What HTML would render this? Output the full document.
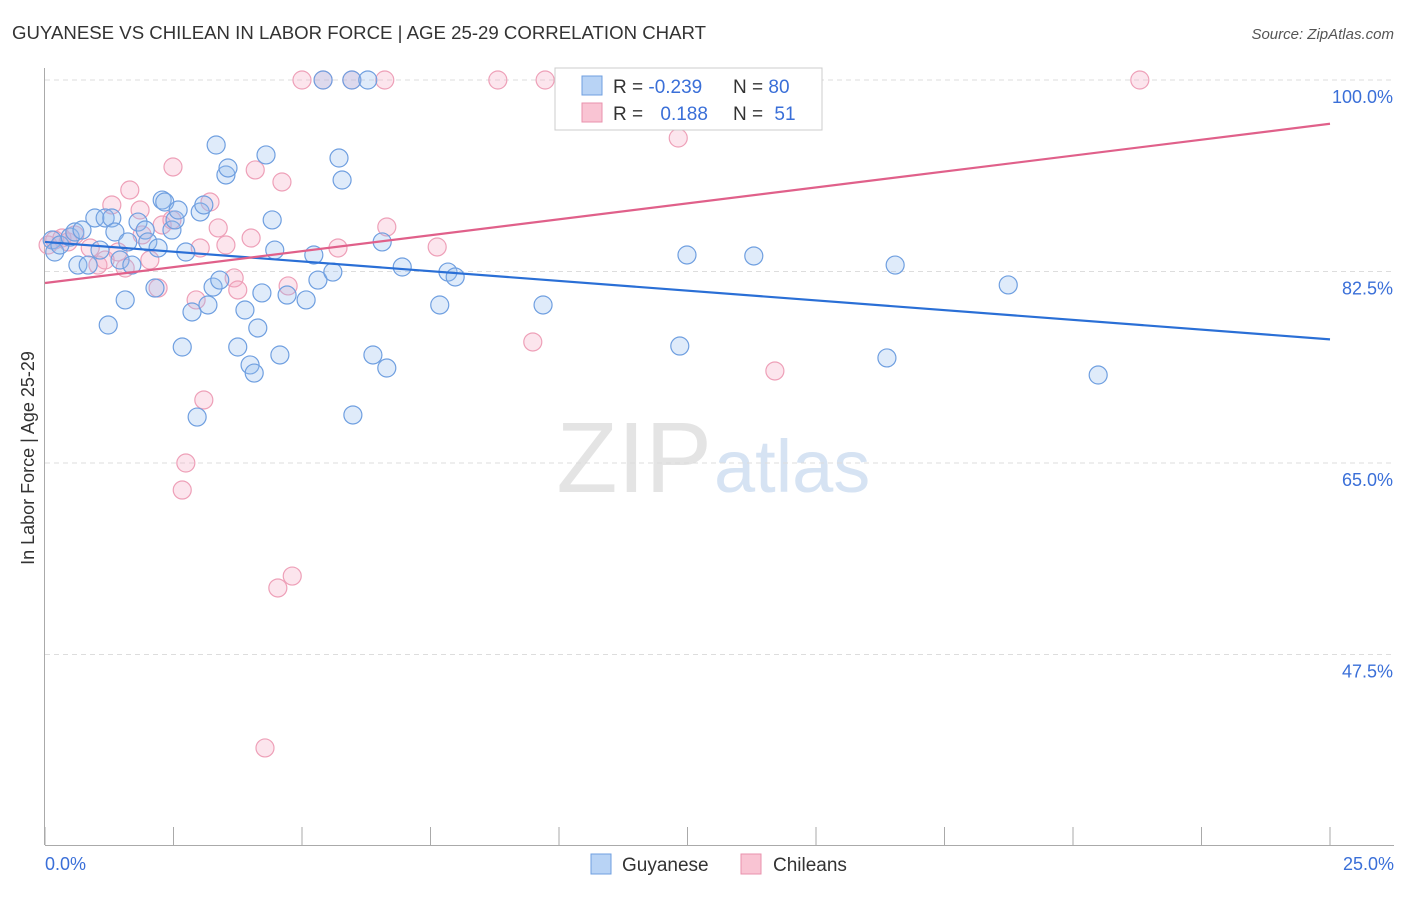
<!DOCTYPE html>
<html><head><meta charset="utf-8"><style>
body{margin:0;background:#fff;font-family:"Liberation Sans",sans-serif}
svg text{font-family:"Liberation Sans",sans-serif}
</style></head><body>
<svg id="chart" width="1406" height="892" xmlns="http://www.w3.org/2000/svg">
<text x="12" y="39" font-size="18" fill="#333" textLength="694" lengthAdjust="spacingAndGlyphs">GUYANESE VS CHILEAN IN LABOR FORCE | AGE 25-29 CORRELATION CHART</text>
<text x="1394" y="39" font-size="15" fill="#555" font-style="italic" text-anchor="end">Source: ZipAtlas.com</text>
<text x="712" y="492" font-size="100" fill="#e4e4e4" text-anchor="end" font-family="Liberation Serif">ZIP</text>
<text x="714" y="492" font-size="74" fill="#d6e3f3">atlas</text>
<g id="grid"></g>
<g id="axes"></g>
<g id="pts"></g>
<g id="trends"></g>
<text x="34" y="458" font-size="18" fill="#333" text-anchor="middle" transform="rotate(-90 34 458)">In Labor Force | Age 25-29</text>
<g>
<rect x="555" y="68" width="267" height="62" fill="#fff" stroke="#ccc"/>
<rect x="582" y="76" width="20" height="19" fill="#b8d3f5" stroke="#6f9fe0"/>
<rect x="582" y="103" width="20" height="19" fill="#f9c4d3" stroke="#e992ad"/>
<text x="613" y="93" font-size="19" fill="#333">R = <tspan fill="#3a6fd8">-0.239</tspan></text>
<text x="733" y="93" font-size="19" fill="#333">N = <tspan fill="#3a6fd8">80</tspan></text>
<text x="613" y="120" font-size="19" fill="#333">R = <tspan fill="#3a6fd8" dx="12">0.188</tspan></text>
<text x="733" y="120" font-size="19" fill="#333">N = <tspan fill="#3a6fd8" dx="6">51</tspan></text>
</g>
<g>
<rect x="591" y="854" width="20" height="20" fill="#b8d3f5" stroke="#6f9fe0"/>
<text x="622" y="871" font-size="19" fill="#333">Guyanese</text>
<rect x="741" y="854" width="20" height="20" fill="#f9c4d3" stroke="#e992ad"/>
<text x="773" y="871" font-size="19" fill="#333">Chileans</text>
</g>
</svg>
<script>
const blueX=[0.14,0.19,0.29,0.49,0.58,0.72,0.64,0.84,0.97,1.07,1.17,1.30,1.23,1.36,1.46,1.56,1.61,1.69,1.81,1.95,2.00,2.14,2.20,2.28,2.33,2.47,2.53,2.59,2.67,2.74,2.86,2.96,3.02,3.09,3.17,3.27,3.33,3.40,3.52,3.56,3.75,3.89,3.99,4.07,4.14,4.22,4.30,4.42,4.47,4.57,4.71,5.08,5.23,5.31,5.41,5.60,5.72,5.78,5.97,6.28,6.38,5.99,6.56,6.65,6.95,7.68,7.84,7.98,9.69,12.35,12.49,13.79,16.38,16.54,18.74,20.49];
const blueY=[85.38,84.28,84.92,85.65,86.11,86.29,83.09,83.09,87.39,84.46,87.39,87.39,77.61,86.11,83.55,79.90,85.20,83.09,87.02,86.29,85.20,80.99,84.65,89.03,88.85,86.29,87.21,88.12,75.60,84.28,78.80,69.20,87.94,88.58,79.44,81.08,94.06,81.72,91.32,91.96,75.60,78.98,73.96,73.22,77.34,80.54,93.15,87.21,84.46,74.87,80.35,79.90,84.01,81.72,100,82.45,92.87,90.86,100,100,74.87,69.39,85.20,73.68,82.91,79.44,82.45,82.00,79.44,75.69,84.01,83.92,74.60,83.09,81.27,73.04];
const pinkX=[0.06,0.19,0.33,0.45,0.58,0.88,1.03,1.17,1.30,1.42,1.56,1.65,1.85,1.89,2.04,2.20,2.28,2.47,2.49,2.67,2.74,2.94,3.02,3.09,3.21,3.37,3.52,3.68,3.75,4.01,4.09,4.28,4.53,4.61,4.73,4.81,5.00,5.41,5.70,5.97,6.61,6.65,7.63,8.81,9.49,9.73,12.32,14.20,21.30];
const pinkY=[84.92,85.38,85.56,85.20,85.84,84.65,83.09,83.55,88.58,84.28,82.82,89.95,88.12,85.84,83.55,80.99,86.75,87.21,92.05,62.53,65.00,79.90,84.65,70.76,88.85,86.48,84.92,81.91,80.81,85.56,91.78,38.96,53.58,90.68,81.18,54.67,100,100,84.65,100,100,86.57,84.74,100,76.06,100,94.70,73.41,100];
const blueTrend=[85.2,76.3];
const pinkTrend=[81.45,96.0];
const yTicks=[100,82.5,65,47.5];
const yTickLabels=["100.0%","82.5%","65.0%","47.5%"];
const xLabels=["0.0%","25.0%"];
const NS="http://www.w3.org/2000/svg";
const sx=v=>45+v*51.4, sy=v=>80+(100-v)*10.943;
function mk(t,a,p){const e=document.createElementNS(NS,t);for(const k in a)e.setAttribute(k,a[k]);document.getElementById(p).appendChild(e);return e;}
yTicks.forEach((t,i)=>{
 const l=mk('line',{x1:45,x2:1394,y1:sy(t),y2:sy(t),stroke:'#ddd','stroke-dasharray':'5,4'},'grid');
 
 
 const tx=mk('text',{x:1393,y:sy(t)+23,'font-size':18,fill:'#3a6fd8','text-anchor':'end'},'axes');
 tx.textContent=yTickLabels[i];
 
 
});
let a=mk('line',{x1:44.5,x2:44.5,y1:68,y2:845,stroke:'#aaa'},'axes');


a=mk('line',{x1:45,x2:1394,y1:845.5,y2:845.5,stroke:'#aaa'},'axes');


for(let i=0;i<=10;i++){const t=mk('line',{x1:sx(i*2.5),x2:sx(i*2.5),y1:827,y2:845,stroke:'#aaa'},'axes');
 
 }
[[0,'start',45],[25,'end',1394]].forEach((d,i)=>{const t=mk('text',{x:d[2],y:870,'font-size':18,fill:'#3a6fd8','text-anchor':d[1]},'axes');t.textContent=xLabels[i];
 
 });
pinkX.forEach((x,i)=>{const c=mk('circle',{cx:sx(x),cy:sy(pinkY[i]),r:9,fill:'rgba(246,170,195,0.3)',stroke:'#eea0b8','stroke-width':1.2},'pts');
 
 });
blueX.forEach((x,i)=>{const c=mk('circle',{cx:sx(x),cy:sy(blueY[i]),r:9,fill:'rgba(150,190,240,0.3)',stroke:'#6f9fe0','stroke-width':1.2},'pts');
 
 });
let tl=mk('line',{x1:sx(0),y1:sy(blueTrend[0]),x2:sx(25),y2:sy(blueTrend[1]),stroke:'#2a6fd6','stroke-width':2.2},'trends');


tl=mk('line',{x1:sx(0),y1:sy(pinkTrend[0]),x2:sx(25),y2:sy(pinkTrend[1]),stroke:'#e0608a','stroke-width':2.2},'trends');


</script>
</body></html>
